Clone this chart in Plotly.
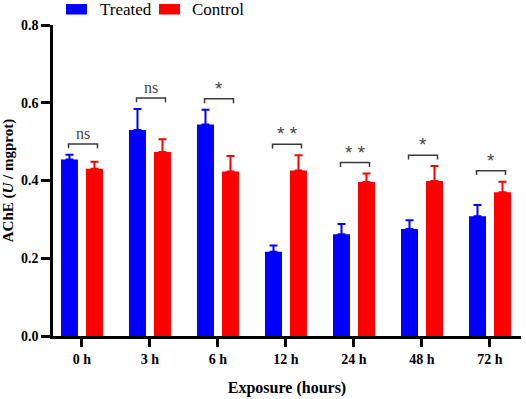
import plotly.graph_objects as go

categories = ["0 h", "3 h", "6 h", "12 h", "24 h", "48 h", "72 h"]
treated = [0.454, 0.530, 0.544, 0.217, 0.262, 0.275, 0.308]
treated_err = [0.012, 0.054, 0.038, 0.016, 0.026, 0.023, 0.029]
control = [0.430, 0.473, 0.423, 0.426, 0.396, 0.399, 0.370]
control_err = [0.018, 0.033, 0.040, 0.039, 0.022, 0.038, 0.027]
significance = ["ns", "ns", "*", "* *", "* *", "*", "*"]
y_ticks = [0.0, 0.2, 0.4, 0.6, 0.8]

BLUE = "#0000FF"
RED = "#FF0000"
SERIF = "Liberation Serif"

fig = go.Figure()
fig.add_trace(go.Bar(
    x=categories, y=treated, name="Treated", marker_color=BLUE,
    marker_line_width=0,
    error_y=dict(type="data", array=treated_err, arrayminus=[0]*len(treated),
                 symmetric=False, color=BLUE, thickness=2, width=4),
))
fig.add_trace(go.Bar(
    x=categories, y=control, name="Control", marker_color=RED,
    marker_line_width=0,
    error_y=dict(type="data", array=control_err, arrayminus=[0]*len(control),
                 symmetric=False, color=RED, thickness=2, width=4),
))

# significance brackets
half = 0.213
shift = 0.015
leg = 0.011
for i, lab in enumerate(significance):
    top = max(treated[i] + treated_err[i], control[i] + control_err[i]) + 0.028
    x0 = i + shift - half
    x1 = i + shift + half
    fig.add_shape(type="path",
                  path=f"M {x0} {top-leg} L {x0} {top} L {x1} {top} L {x1} {top-leg}",
                  xref="x", yref="y", line=dict(color="#3a3a3a", width=1.5))
    is_star = "*" in lab
    fig.add_annotation(x=i + shift, y=top, xref="x", yref="y", text=lab,
                       showarrow=False, yanchor="bottom", yshift=0 if not is_star else -2,
                       font=dict(family=SERIF if not is_star else "Liberation Sans",
                                 size=16 if not is_star else 19, color="#444444"))

# manual legend
for (x0, x1, tx, name, col) in [(66, 87, 98, "Treated", BLUE), (159, 180, 190, "Control", RED)]:
    fig.add_shape(type="rect", xref="paper", yref="paper",
                  x0=(x0 - 53) / 468, x1=(x1 - 53) / 468,
                  y0=(336.5 - 4) / 311.5, y1=(336.5 - 14.5) / 311.5,
                  fillcolor=col, line_width=0)
    fig.add_annotation(x=(tx - 53) / 468, y=(336.5 - 9) / 311.5, xref="paper", yref="paper",
                       text=name, showarrow=False, xanchor="left", yanchor="middle",
                       font=dict(family=SERIF, size=17, color="#000000"))

fig.update_layout(
    width=526, height=399,
    margin=dict(l=53, r=5, t=25, b=62.5),
    paper_bgcolor="white", plot_bgcolor="white",
    barmode="group", bargap=0.265, bargroupgap=0.32,
    showlegend=False,
    font=dict(family=SERIF, color="#000000"),
)
fig.update_xaxes(
    type="category", range=[-0.426, 6.456], automargin=False,
    showline=True, linecolor="black", linewidth=2.5,
    ticks="outside", ticklen=8, tickwidth=2.5, tickcolor="black",
    tickfont=dict(family=SERIF, size=14, color="black", weight="bold"),
    showgrid=False, zeroline=False,
    title=dict(text="<b>Exposure (hours)</b>", font=dict(family=SERIF, size=16, color="black"),
               standoff=17),
)
fig.update_yaxes(
    range=[0, 0.8], tickvals=y_ticks, ticktext=[f"{v:.1f}" for v in y_ticks],
    automargin=False,
    showline=True, linecolor="black", linewidth=2.5,
    ticks="outside", ticklen=9, tickwidth=2.5, tickcolor="black",
    tickfont=dict(family=SERIF, size=14, color="black", weight="bold"),
    showgrid=False, zeroline=False,
    title=dict(text="<b>AChE (<i>U</i> / mgprot)</b>", font=dict(family=SERIF, size=15, color="black"),
               standoff=5),
)

fig.write_html("out.html", config={"displayModeBar": False},
               post_script="document.body.style.margin='0';")
